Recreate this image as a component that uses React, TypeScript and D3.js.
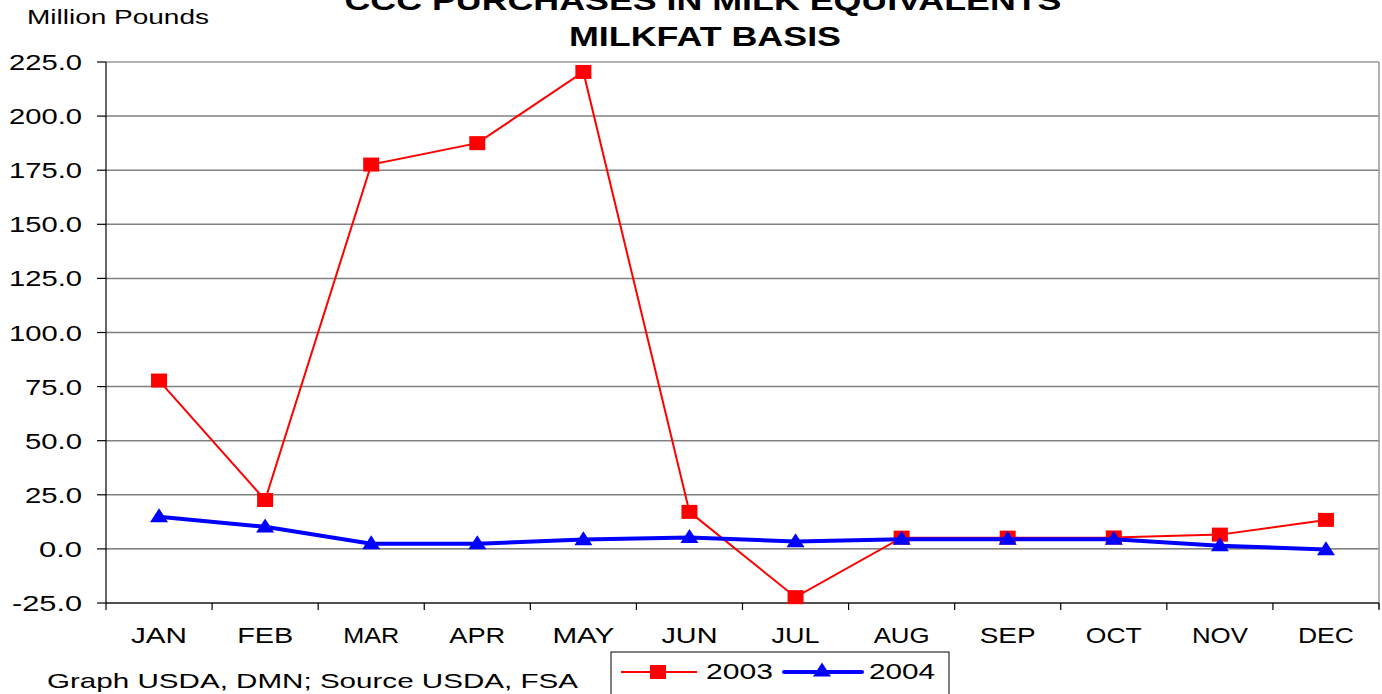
import React from "react";
import * as d3 from "d3";

const months = ["JAN", "FEB", "MAR", "APR", "MAY", "JUN", "JUL", "AUG", "SEP", "OCT", "NOV", "DEC"];
const values2003 = [77.8, 22.6, 177.6, 187.5, 220.4, 17.1, -22.3, 5.2, 5.2, 5.3, 6.6, 13.4];
const values2004 = [14.9, 10.2, 2.4, 2.4, 4.3, 5.3, 3.4, 4.5, 4.5, 4.5, 1.5, -0.3];
const yTicks = [-25, 0, 25, 50, 75, 100, 125, 150, 175, 200, 225];
const titleLines = ["CCC PURCHASES IN MILK EQUIVALENTS", "MILKFAT BASIS"];
const seriesNames = ["2003", "2004"];

const W = 1382;
const H = 694;
const left = 106;
const right = 1379;
const top = 62;
const bottom = 603;
const FONT = "'Liberation Sans', Arial, sans-serif";

export default function App() {
  const x = d3.scaleBand<string>().domain(months).range([left, right]);
  const y = d3.scaleLinear().domain([-25, 225]).range([bottom, top]);
  const cx = (m: string) => (x(m) ?? 0) + x.bandwidth() / 2;

  const line = d3
    .line<number>()
    .x((_, i) => cx(months[i]))
    .y((d) => y(d));

  const tri = (px: number, py: number, w = 18, h = 14) =>
    `M${px},${py - h * 0.6}L${px + w / 2},${py + h * 0.4}L${px - w / 2},${py + h * 0.4}Z`;

  const boundaries = d3.range(months.length + 1).map((i) => left + i * x.bandwidth());
  const tickLen = (t: number) => (t < 0 ? 70 : t >= 100 ? 73 : t === 0 ? 43 : 57);

  return (
    <svg
      width={W}
      height={H}
      style={{ position: "absolute", left: 0, top: 0, display: "block", background: "#fff" }}
      fontFamily={FONT}
    >
      <rect x={0} y={0} width={W} height={H} fill="#fff" />
      {/* title */}
      <text x={703} y={10} textAnchor="middle" fontWeight="bold" fontSize={28} textLength={717} lengthAdjust="spacingAndGlyphs">
        {titleLines[0]}
      </text>
      <text x={705} y={46} textAnchor="middle" fontWeight="bold" fontSize={28} textLength={272} lengthAdjust="spacingAndGlyphs">
        {titleLines[1]}
      </text>
      <text x={27} y={24} fontSize={21} textLength={182} lengthAdjust="spacingAndGlyphs">
        Million Pounds
      </text>

      {/* grid */}
      {yTicks.map((t) => (
        <line
          key={t}
          x1={left}
          x2={right}
          y1={y(t)}
          y2={y(t)}
          stroke={t === 0 ? "#333" : t === 225 ? "#999" : "#808080"}
          strokeWidth={t === 0 ? 1 : 1.5}
        />
      ))}
      <line x1={right} x2={right} y1={top} y2={bottom + 6} stroke="#999" strokeWidth={1.5} />

      {/* axes */}
      <line x1={left} x2={left} y1={top} y2={bottom} stroke="#000" strokeWidth={1.2} />
      <line x1={left} x2={right} y1={bottom} y2={bottom} stroke="#000" strokeWidth={1.2} />
      {yTicks.map((t) => (
        <g key={"yt" + t}>
          <line x1={97} x2={left} y1={y(t)} y2={y(t)} stroke="#000" strokeWidth={1.2} />
          <text
            x={82}
            y={y(t) + 8}
            textAnchor="end"
            fontSize={22}
            textLength={tickLen(t)}
            lengthAdjust="spacingAndGlyphs"
          >
            {t.toFixed(1)}
          </text>
        </g>
      ))}
      {boundaries.map((b, i) => (
        <line key={"xt" + i} x1={b} x2={b} y1={bottom} y2={bottom + 7} stroke="#000" strokeWidth={1.2} />
      ))}
      {months.map((m) => (
        <text
          key={m}
          x={cx(m)}
          y={643}
          textAnchor="middle"
          fontSize={22}
          textLength={m === "MAY" ? 62 : m === "JUL" ? 48 : 56}
          lengthAdjust="spacingAndGlyphs"
        >
          {m}
        </text>
      ))}

      {/* series 2003 */}
      <path d={line(values2003) ?? ""} fill="none" stroke="#ff0000" strokeWidth={2} />
      {values2003.map((v, i) => (
        <rect key={"r" + i} x={cx(months[i]) - 8} y={y(v) - 7} width={16} height={14} fill="#ff0000" />
      ))}

      {/* series 2004 */}
      <path d={line(values2004) ?? ""} fill="none" stroke="#0000ff" strokeWidth={4} />
      {values2004.map((v, i) => (
        <path key={"t" + i} d={tri(cx(months[i]), y(v))} fill="#0000ff" />
      ))}

      {/* source */}
      <text x={47} y={688} fontSize={21} textLength={531} lengthAdjust="spacingAndGlyphs">
        Graph USDA, DMN; Source USDA,  FSA
      </text>

      {/* legend */}
      <rect x={611} y={652} width={338} height={60} fill="#fff" stroke="#000" strokeWidth={1} />
      <line x1={621} x2={697} y1={672} y2={672} stroke="#ff0000" strokeWidth={2} />
      <rect x={650} y={665} width={16} height={14} fill="#ff0000" />
      <text x={706} y={679} fontSize={22} textLength={67} lengthAdjust="spacingAndGlyphs">
        {seriesNames[0]}
      </text>
      <line x1={784} x2={862} y1={672} y2={672} stroke="#0000ff" strokeWidth={4} strokeLinecap="round" />
      <path d={tri(822, 671)} fill="#0000ff" />
      <text x={869} y={679} fontSize={22} textLength={66} lengthAdjust="spacingAndGlyphs">
        {seriesNames[1]}
      </text>
    </svg>
  );
}
